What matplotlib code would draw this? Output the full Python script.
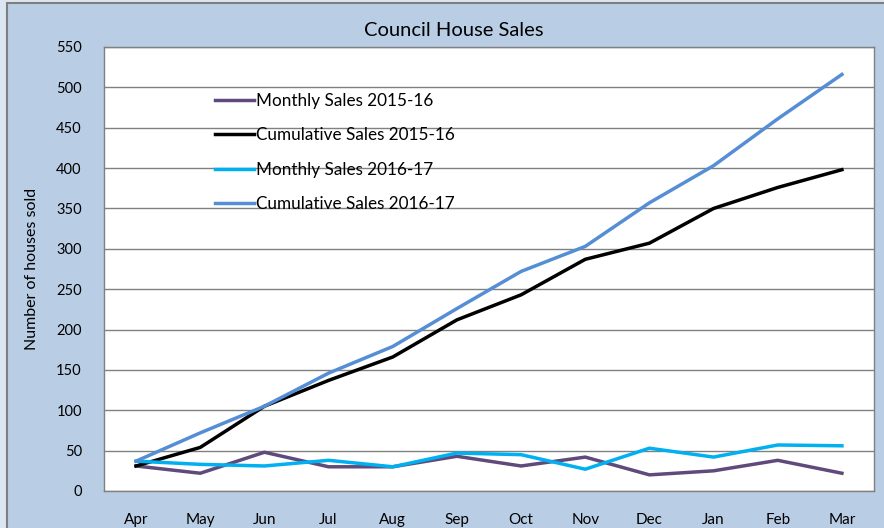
import matplotlib
matplotlib.use("Agg")
import matplotlib.pyplot as plt
from matplotlib.patches import Rectangle

months = ["Apr", "May", "Jun", "Jul", "Aug", "Sep", "Oct", "Nov", "Dec", "Jan", "Feb", "Mar"]
monthly_1516 = [31, 22, 48, 30, 30, 43, 31, 42, 20, 25, 38, 22]
cumulative_1516 = [31, 54, 105, 137, 166, 212, 243, 287, 307, 350, 376, 398]
monthly_1617 = [37, 33, 31, 38, 30, 47, 45, 27, 53, 42, 57, 56]
cumulative_1617 = [37, 72, 105, 146, 179, 226, 272, 303, 357, 403, 461, 516]
yticks = list(range(0, 551, 50))

plt.rcParams['font.family'] = ['Lato', 'DejaVu Sans']

W, H = 884, 528
fig = plt.figure(figsize=(W / 100, H / 100), dpi=100)
fig.patch.set_facecolor('#DCE6F2')
fig.patches.append(Rectangle((6.5 / W, -0.1), 1.2, (H - 3.5) / H + 0.1,
                             transform=fig.transFigure, facecolor='#B9CDE5',
                             edgecolor='#7F7F7F', linewidth=1.5, zorder=-10))

ax = fig.add_axes([104 / W, (H - 491) / H, (874 - 104) / W, (491 - 47) / H])
ax.set_zorder(5)
ax.set_facecolor('white')

x = list(range(len(months)))
ax.plot(x, monthly_1516, color='#604A7B', lw=2.5, label='Monthly Sales 2015-16', zorder=3)
ax.plot(x, cumulative_1516, color='black', lw=2.5, label='Cumulative Sales 2015-16', zorder=3)
ax.plot(x, monthly_1617, color='#00B0F0', lw=2.5, label='Monthly Sales 2016-17', zorder=3)
ax.plot(x, cumulative_1617, color='#558ED5', lw=2.5, label='Cumulative Sales 2016-17', zorder=3)

ax.set_xlim(-0.5, len(months) - 0.5)
ax.set_ylim(0, 550)
ax.set_yticks(yticks)
ax.set_xticks(x)
ax.set_xticklabels(months)
ax.tick_params(axis='both', length=0, labelsize=10.5, colors='black')
ax.tick_params(axis='y', pad=16)
ax.tick_params(axis='x', pad=16)
for lbl in ax.get_xticklabels():
    lbl.set_fontsize(11)
ax.grid(axis='y', color='#808080', lw=1)
ax.set_axisbelow(True)
for s in ax.spines.values():
    s.set_color('#808080')
    s.set_linewidth(1)

ax.set_ylabel('Number of houses sold', fontsize=11.5, labelpad=12)
fig.text(454 / W, (H - 30) / H, 'Council House Sales', ha='center', va='center', fontsize=14.5)

leg = ax.legend(loc='upper left', bbox_to_anchor=(0.144, 0.896), frameon=False,
                fontsize=12.3, handlelength=2.3, handletextpad=0.1, labelspacing=1.07,
                borderpad=0, borderaxespad=0)

fig.savefig('out.png', dpi=100, facecolor=fig.get_facecolor())
